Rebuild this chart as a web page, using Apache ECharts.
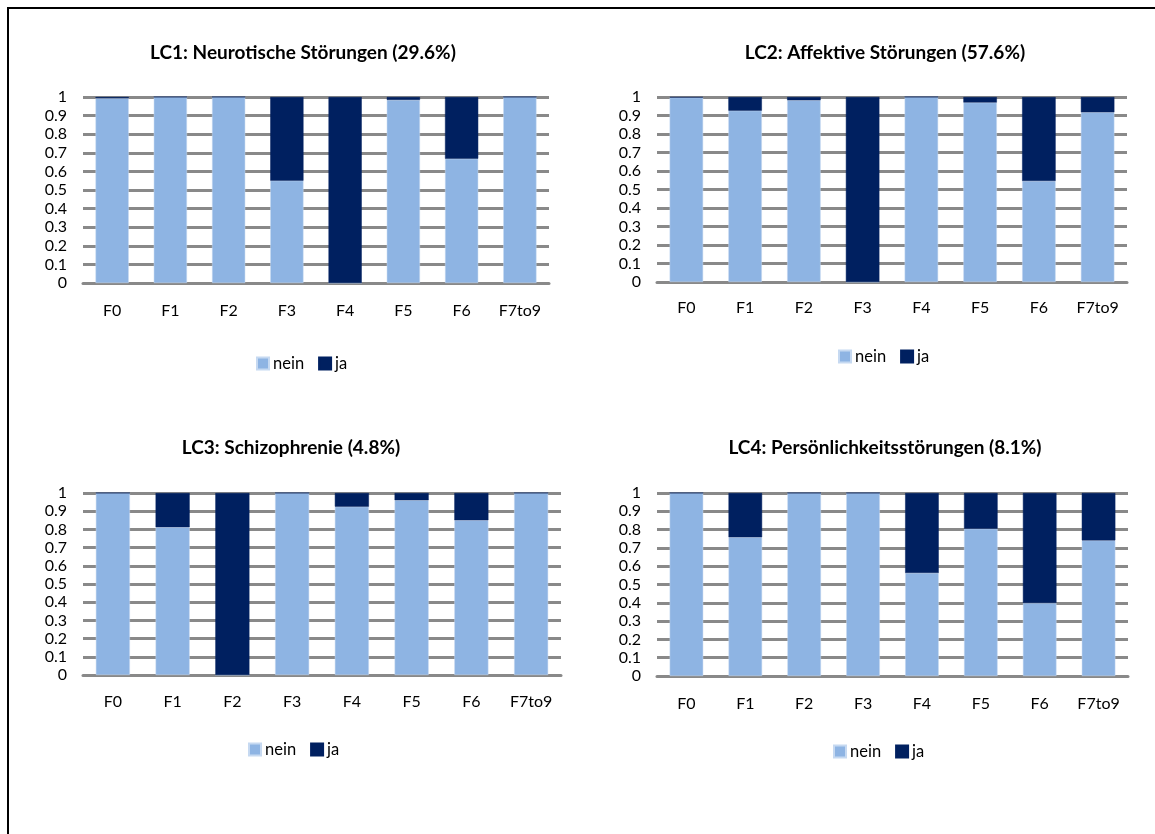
<!DOCTYPE html>
<html>
<head>
<meta charset="utf-8">
<script src="https://cdn.jsdelivr.net/npm/echarts@6/dist/echarts.min.js"></script>
<style>
html,body{margin:0;padding:0;background:#fff;}
#c{width:1155px;height:834px;}
</style>
</head>
<body>
<div id="c"></div>
<script>
const categories = ['F0','F1','F2','F3','F4','F5','F6','F7to9'];
const seriesNames = ['nein','ja'];
const titles = [
  'LC1: Neurotische Störungen (29.6%)',
  'LC2: Affektive Störungen (57.6%)',
  'LC3: Schizophrenie (4.8%)',
  'LC4: Persönlichkeitsstörungen (8.1%)'
];
const lc1Nein = [0.993, 1.0, 1.0, 0.55, 0.0, 0.984, 0.668, 1.0];
const lc1Ja   = [0.007, 0.0, 0.0, 0.45, 1.0, 0.016, 0.332, 0.0];
const lc2Nein = [0.997, 0.926, 0.982, 0.0, 1.0, 0.97, 0.546, 0.917];
const lc2Ja   = [0.003, 0.074, 0.018, 1.0, 0.0, 0.03, 0.454, 0.083];
const lc3Nein = [1.0, 0.812, 0.0, 1.0, 0.925, 0.96, 0.85, 1.0];
const lc3Ja   = [0.0, 0.188, 1.0, 0.0, 0.075, 0.04, 0.15, 0.0];
const lc4Nein = [1.0, 0.758, 1.0, 1.0, 0.563, 0.805, 0.399, 0.741];
const lc4Ja   = [0.0, 0.242, 0.0, 0.0, 0.437, 0.195, 0.601, 0.259];
const yTicks = { min: 0, max: 1, interval: 0.1 };

const panelData = [[lc1Nein, lc1Ja],[lc2Nein, lc2Ja],[lc3Nein, lc3Ja],[lc4Nein, lc4Ja]];
const colors = ['#8EB4E3', '#002060'];
const FONT = 'Lato, Carlito, "Open Sans", sans-serif';

// layout
const grids = [
  {left: 83, top: 97, width: 466, height: 186},
  {left: 657, top: 97, width: 470, height: 185},
  {left: 83, top: 493, width: 478, height: 182},
  {left: 657, top: 493, width: 471, height: 183}
];
const titlePos = [[303, 43],[885, 43],[291, 438],[885, 438]];
const legendPos = [[303, 355],[885, 348],[295, 741],[880, 743]];
const labelMargin = [20, 18, 19, 20];

const option = {
  animation: false,
  backgroundColor: '#fff',
  textStyle: {fontFamily: FONT},
  title: titles.map((t, i) => ({
    text: t, left: titlePos[i][0], top: titlePos[i][1], textAlign: 'center',
    padding: 0,
    textStyle: {fontFamily: FONT, fontSize: 19, fontWeight: 'bold', color: '#000'}
  })),
  legend: legendPos.map((p, i) => ({
    data: seriesNames, left: p[0] - 47, top: p[1], padding: 0,
    icon: 'rect', itemWidth: 12, itemHeight: 12, itemGap: 14,
    textStyle: {fontFamily: FONT, fontSize: 16.5, color: '#000', padding: [0,0,0,-1]},
    selectedMode: false
  })),
  grid: grids.map(g => Object.assign({containLabel: false}, g)),
  xAxis: grids.map((g, i) => ({
    type: 'category', gridIndex: i, data: categories,
    axisTick: {show: false},
    axisLine: {show: true, lineStyle: {color: '#898989', width: 3}},
    axisLabel: {fontFamily: FONT, fontSize: 16, color: '#000', margin: labelMargin[i]}
  })),
  yAxis: grids.map((g, i) => ({
    type: 'value', gridIndex: i, min: yTicks.min, max: yTicks.max, interval: yTicks.interval,
    axisLine: {show: false}, axisTick: {show: false},
    splitLine: {show: true, lineStyle: {color: '#898989', width: 3}},
    axisLabel: {fontFamily: FONT, fontSize: 16, color: '#000', margin: 16, lineHeight: 16}
  })),
  series: [],
  graphic: [{
    type: 'polyline', silent: true,
    shape: {points: [[8, 840], [8, 8], [1160, 8]]},
    style: {stroke: '#000', lineWidth: 2, fill: null}
  }]
};

panelData.forEach((pd, i) => {
  pd.forEach((vals, j) => {
    option.series.push({
      name: seriesNames[j], type: 'bar', stack: 'p' + i,
      xAxisIndex: i, yAxisIndex: i, data: vals,
      barWidth: '57%',
      itemStyle: {color: colors[j], borderColor: j === 0 ? '#c6d9f1' : colors[j], borderWidth: 0.5},
      emphasis: {disabled: true}
    });
  });
});

const chart = echarts.init(document.getElementById('c'), null, {renderer: 'canvas'});
chart.setOption(option);
</script>
</body>
</html>
